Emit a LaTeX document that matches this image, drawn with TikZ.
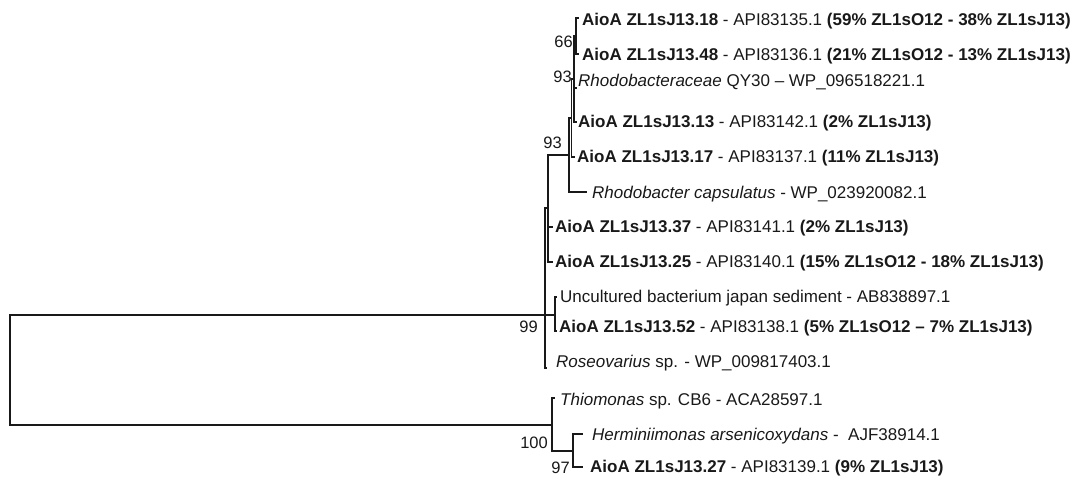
\documentclass[tikz,border=0pt]{standalone}
\usepackage{fontspec}
\setmainfont{Liberation Sans}
\definecolor{lc}{RGB}{25,25,25}
\definecolor{tc}{RGB}{25,25,25}
\newcommand\leaffont{\fontsize{17}{20}\selectfont}
\newcommand\bootfont{\fontsize{16.5}{20}\selectfont}
\tikzset{
  br/.style={line width=1.4pt, draw=lc},
  leaf/.style={anchor=base west, inner sep=0pt, font=\leaffont, text=tc},
  boot/.style={anchor=base east, inner sep=0pt, font=\bootfont, text=tc},
}
\begin{document}
\begin{tikzpicture}[x=1pt,y=-1pt]
\useasboundingbox (0,0) rectangle (1084,482);
% internal nodes
\coordinate (R) at (10,370);
\coordinate (F) at (545,315);
\coordinate (E) at (548,208);
\coordinate (D) at (569,155);
\coordinate (C) at (571.5,118);
\coordinate (B) at (574,79);
\coordinate (A) at (576,36);
\coordinate (G) at (555,315);
\coordinate (H) at (552,425);
\coordinate (I) at (573,451);
% tips
\coordinate (t1) at (579,18);
\coordinate (t2) at (579,54);
\coordinate (t3) at (577,88);
\coordinate (t4) at (577,122);
\coordinate (t5) at (575,157);
\coordinate (t6) at (587,192);
\coordinate (t7) at (553,227);
\coordinate (t8) at (553,262);
\coordinate (t9) at (557,297);
\coordinate (t10) at (557,331);
\coordinate (t11) at (547,368);
\coordinate (t12) at (555,398);
\coordinate (t13) at (583,434);
\coordinate (t14) at (583,467);
% branches
\draw[br] (R) |- (F);
\draw[br] (R) |- (H);
\draw[br] (F) |- (E);
\draw[br] (F) |- (G);
\draw[br] (F) |- (t11);
\draw[br] (E) |- (D);
\draw[br] (E) |- (t7);
\draw[br] (E) |- (t8);
\draw[br] (D) |- (C);
\draw[br] (D) |- (t6);
\draw[br] (C) |- (B);
\draw[br] (C) |- (t5);
\draw[br] (B) |- (A);
\draw[br] (B) |- (t3);
\draw[br] (B) |- (t4);
\draw[br] (A) |- (t1);
\draw[br] (A) |- (t2);
\draw[br] (G) |- (t9);
\draw[br] (G) |- (t10);
\draw[br] (H) |- (t12);
\draw[br] (H) |- (I);
\draw[br] (I) |- (t13);
\draw[br] (I) |- (t14);
% leaf labels
\node[leaf] (L1) at (582,25) {\textbf{AioA ZL1sJ13.18} - API83135.1 \textbf{(59\% ZL1sO12 - 38\% ZL1sJ13)}};
\node[leaf] (L2) at (582,60) {\textbf{AioA ZL1sJ13.48} - API83136.1 \textbf{(21\% ZL1sO12 - 13\% ZL1sJ13)}};
\node[leaf] (L3) at (578,86) {\textit{Rhodobacteraceae} QY30 – WP\_096518221.1};
\node[leaf] (L4) at (578,127) {\textbf{AioA ZL1sJ13.13} - API83142.1 \textbf{(2\% ZL1sJ13)}};
\node[leaf] (L5) at (577,162) {\textbf{AioA ZL1sJ13.17} - API83137.1 \textbf{(11\% ZL1sJ13)}};
\node[leaf] (L6) at (592,198) {\textit{Rhodobacter capsulatus} - WP\_023920082.1};
\node[leaf] (L7) at (555,232) {\textbf{AioA ZL1sJ13.37} - API83141.1 \textbf{(2\% ZL1sJ13)}};
\node[leaf] (L8) at (555,267) {\textbf{AioA ZL1sJ13.25} - API83140.1 \textbf{(15\% ZL1sO12 - 18\% ZL1sJ13)}};
\node[leaf] (L9) at (560,302) {Uncultured bacterium japan sediment - AB838897.1};
\node[leaf] (L10) at (559,332) {\textbf{AioA ZL1sJ13.52} - API83138.1 \textbf{(5\% ZL1sO12 – 7\% ZL1sJ13)}};
\node[leaf] (L11) at (556,367) {\textit{Roseovarius} sp. - WP\_009817403.1};
\node[leaf] (L12) at (560,405) {\textit{Thiomonas} sp. CB6 - ACA28597.1};
\node[leaf] (L13) at (592,440) {\textit{Herminiimonas arsenicoxydans} -\ \ AJF38914.1};
\node[leaf] (L14) at (590,472) {\textbf{AioA ZL1sJ13.27} - API83139.1 \textbf{(9\% ZL1sJ13)}};
% bootstrap values
\node[boot] (b66) at (573,47) {66};
\node[boot] (b93a) at (572,82) {93};
\node[boot] (b93b) at (562,148) {93};
\node[boot] (b99) at (538,332) {99};
\node[boot] (b100) at (548,448) {100};
\node[boot] (b97) at (570,473) {97};
\end{tikzpicture}
\end{document}
